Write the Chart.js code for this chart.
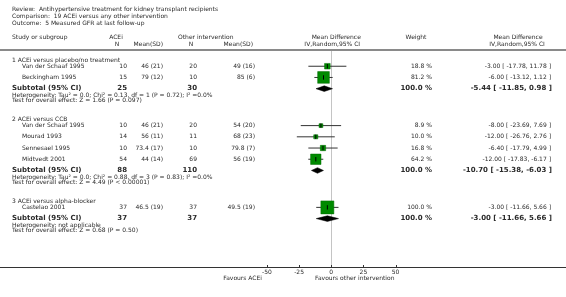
<!DOCTYPE html>
<html><head><meta charset="utf-8">
<script src="https://cdn.jsdelivr.net/npm/chart.js@4/dist/chart.umd.min.js"></script>
<style>html,body{margin:0;padding:0;background:#fff}#wrap{width:566px;height:297px;position:relative}</style>
</head><body><div id="wrap"><canvas id="c" width="566" height="297"></canvas></div>
<script>
// ---------- DATA ----------
const titleLines = [
  "Review:  Antihypertensive treatment for kidney transplant recipients",
  "Comparison:  19 ACEi versus any other intervention",
  "Outcome:  5 Measured GFR at last follow-up"
];
const groupNames = ["1 ACEi versus placebo/no treatment", "2 ACEi versus CCB", "3 ACEi versus alpha-blocker"];
const studyGroup = [0, 0, 1, 1, 1, 1, 2];
const studyNames = ["Van der Schaaf 1995", "Beckingham 1995", "Van der Schaaf 1995", "Mourad 1993", "Sennesael 1995", "Midtvedt 2001", "Castelao 2001"];
const aceN = [10, 15, 10, 14, 10, 54, 37];
const aceMean = [46, 79, 46, 56, 73.4, 44, 46.5];
const aceSD = [21, 12, 21, 11, 17, 14, 19];
const othN = [20, 10, 20, 11, 10, 69, 37];
const othMean = [49, 85, 54, 68, 79.8, 56, 49.5];
const othSD = [16, 6, 20, 23, 7, 19, 19];
const studyWeight = [18.8, 81.2, 8.9, 10.0, 16.8, 64.2, 100.0];
const studyMD = [-3.00, -6.00, -8.00, -12.00, -6.40, -12.00, -3.00];
const studyLo = [-17.78, -13.12, -23.69, -26.76, -17.79, -17.83, -11.66];
const studyHi = [11.78, 1.12, 7.69, 2.76, 4.99, -6.17, 5.66];
const subAceN = [25, 88, 37];
const subOthN = [30, 110, 37];
const subWeight = [100.0, 100.0, 100.0];
const subMD = [-5.44, -10.70, -3.00];
const subLo = [-11.85, -15.38, -11.66];
const subHi = [0.98, -6.03, 5.66];
const hetText = [
  "Heterogeneity: Tau\u00b2 = 0.0; Chi\u00b2 = 0.13, df = 1 (P = 0.72); I\u00b2 =0.0%",
  "Heterogeneity: Tau\u00b2 = 0.0; Chi\u00b2 = 0.88, df = 3 (P = 0.83); I\u00b2 =0.0%",
  "Heterogeneity: not applicable"
];
const testText = [
  "Test for overall effect: Z = 1.66 (P = 0.097)",
  "Test for overall effect: Z = 4.49 (P < 0.00001)",
  "Test for overall effect: Z = 0.68 (P = 0.50)"
];
const axisTicks = [-50, -25, 0, 25, 50];
const favourLeft = "Favours ACEi";
const favourRight = "Favours other intervention";

// ---------- LAYOUT (row positions in pixel space of the y scale) ----------
const L = {firstHeading: 54, headToStudy: 6.5, studyStep: 12, studyToSub: 12, subToHet: 7, hetToTest: 6, testToHead: 20};
const headingY = [], studyY = [], subY = [], hetY = [], testY = [];
(function () {
  let y = L.firstHeading;
  for (let g = 0; g < groupNames.length; g++) {
    headingY.push(y);
    y += L.headToStudy;
    let first = true;
    studyGroup.forEach((sg, i) => {
      if (sg !== g) return;
      if (!first) y += L.studyStep;
      studyY[i] = y; first = false;
    });
    y += L.studyToSub; subY.push(y);
    y += L.subToHet; hetY.push(y);
    y += L.hetToTest; testY.push(y);
    y += L.testToHead;
  }
})();

const fmt2 = v => v.toFixed(2);
const ciStr = (m, lo, hi) => fmt2(m) + " [ " + fmt2(lo) + ", " + fmt2(hi) + " ]";

// datasets
const whiskerData = [];
studyNames.forEach((_, i) => {
  whiskerData.push({x: studyLo[i], y: studyY[i]}, {x: studyHi[i], y: studyY[i]}, {x: NaN, y: NaN});
});
const squareData = studyNames.map((_, i) => ({x: studyMD[i], y: studyY[i]}));
const squareRadius = studyWeight.map(w => 1.3 * Math.sqrt(w) / Math.SQRT2);
const DH = 3;
const diamondSets = subMD.map((m, g) => ({
  type: 'scatter', showLine: true, order: 3,
  data: [{x: subLo[g], y: subY[g]}, {x: m, y: subY[g] - DH}, {x: subHi[g], y: subY[g]}, {x: m, y: subY[g] + DH}, {x: subLo[g], y: subY[g]}],
  borderColor: '#000', backgroundColor: '#000', borderWidth: 0.5, pointRadius: 0, fill: 'shape', tension: 0
}));

const TEXT = '#2a2a2a';
const F = '"DejaVu Sans", Verdana, sans-serif';
const fontN = '6px ' + F;
const fontB = 'bold 7px ' + F;

const decor = {
  id: 'decor',
  beforeDatasetsDraw(chart) {
    const ctx = chart.ctx, xs = chart.scales.x, ys = chart.scales.y;
    ctx.save();
    // header rule
    ctx.strokeStyle = '#8a8a8a'; ctx.lineWidth = 2;
    ctx.beginPath(); ctx.moveTo(0, 50); ctx.lineTo(566, 50); ctx.stroke();
    // zero line
    const x0 = Math.round(xs.getPixelForValue(0)) + 0.5;
    ctx.strokeStyle = '#c4c4c4'; ctx.lineWidth = 1;
    ctx.beginPath(); ctx.moveTo(x0, 51); ctx.lineTo(x0, 267); ctx.stroke();
    // axis line
    ctx.strokeStyle = '#333'; ctx.lineWidth = 1;
    ctx.beginPath(); ctx.moveTo(0, 267.5); ctx.lineTo(566, 267.5); ctx.stroke();
    axisTicks.forEach(t => {
      const px = Math.round(xs.getPixelForValue(t)) + 0.5;
      ctx.beginPath(); ctx.moveTo(px, 265); ctx.lineTo(px, 268); ctx.stroke();
    });
    ctx.restore();
  },
  afterDraw(chart) {
    const ctx = chart.ctx, xs = chart.scales.x, ys = chart.scales.y;
    ctx.save();
    ctx.fillStyle = TEXT; ctx.textBaseline = 'middle';
    const t = (s, x, y, align, font) => { ctx.font = font || fontN; ctx.textAlign = align || 'left'; ctx.fillText(s, x, y); };
    titleLines.forEach((s, i) => t(s, 12, 9 + i * 7));
    // column headers
    t("Study or subgroup", 12, 37);
    t("ACEi", 116, 37, 'center'); t("N", 117, 44, 'center'); t("Mean(SD)", 163, 44, 'right');
    t("Other intervention", 178, 37); t("N", 191, 44, 'center'); t("Mean(SD)", 253, 44, 'right');
    const xz = xs.getPixelForValue(0);
    t("Mean Difference", xz + 5, 37, 'center'); t("IV,Random,95% CI", xz + 1, 44, 'center');
    t("Weight", 416, 37, 'center');
    t("Mean Difference", 518, 37, 'center'); t("IV,Random,95% CI", 517, 44, 'center');
    // groups
    groupNames.forEach((g, gi) => {
      t(g, 12, ys.getPixelForValue(headingY[gi]));
      const sy = ys.getPixelForValue(subY[gi]);
      t("Subtotal (95% CI)", 12, sy, 'left', fontB);
      t(String(subAceN[gi]), 127, sy, 'right', fontB);
      t(String(subOthN[gi]), 197, sy, 'right', fontB);
      t(subWeight[gi].toFixed(1) + " %", 432, sy, 'right', fontB);
      t(ciStr(subMD[gi], subLo[gi], subHi[gi]), 552, sy, 'right', fontB);
      t(hetText[gi], 12, ys.getPixelForValue(hetY[gi]));
      t(testText[gi], 12, ys.getPixelForValue(testY[gi]));
    });
    studyNames.forEach((s, i) => {
      const y = ys.getPixelForValue(studyY[i]);
      t(s, 22, y);
      t(String(aceN[i]), 127, y, 'right');
      t(aceMean[i] + " (" + aceSD[i] + ")", 163, y, 'right');
      t(String(othN[i]), 197, y, 'right');
      t(othMean[i] + " (" + othSD[i] + ")", 255, y, 'right');
      t(studyWeight[i].toFixed(1) + " %", 432, y, 'right');
      t(ciStr(studyMD[i], studyLo[i], studyHi[i]), 551, y, 'right');
    });
    // axis labels
    axisTicks.forEach(v => t(String(v), xs.getPixelForValue(v), 272, 'center'));
    t(favourLeft, 262, 278, 'right');
    t(favourRight, 315, 278, 'left');
    ctx.restore();
  }
};

new Chart(document.getElementById('c'), {
  type: 'scatter',
  data: {
    datasets: [
      {data: squareData, pointStyle: 'line', rotation: 90, pointRadius: squareRadius.map(() => 2.2), borderColor: '#000', borderWidth: 1, order: 0},
      {data: squareData, pointStyle: 'rect', pointRadius: squareRadius, backgroundColor: '#008a00', borderColor: '#006a00', borderWidth: 0.5, order: 1},
      {data: whiskerData, showLine: true, pointRadius: 0, borderColor: '#333', borderWidth: 1, order: 2, spanGaps: false},
      ...diamondSets
    ]
  },
  options: {
    responsive: false, animation: false, events: [],
    layout: {padding: 0},
    plugins: {legend: {display: false}, tooltip: {enabled: false}},
    scales: {
      x: {type: 'linear', display: false, min: -250, max: 175},
      y: {type: 'linear', display: false, min: 0, max: 297, reverse: true}
    }
  },
  plugins: [decor]
});
</script>
</body></html>
